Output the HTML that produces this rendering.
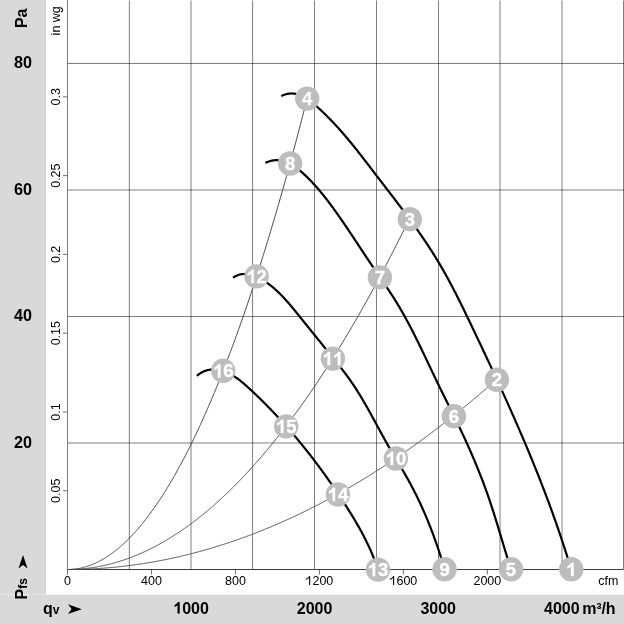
<!DOCTYPE html>
<html><head><meta charset="utf-8"><style>
html,body{margin:0;padding:0;background:#fff;}
body{width:624px;height:624px;overflow:hidden;position:relative;font-family:"Liberation Sans",sans-serif;}
svg{position:absolute;left:0;top:0;will-change:transform;font-family:"Liberation Sans",sans-serif;}
</style></head><body>
<svg width="624" height="624" viewBox="0 0 624 624">
<rect x="0" y="0" width="624" height="624" fill="#fff"/>
<rect x="0" y="0" width="46" height="624" fill="#d9d9d9"/>
<rect x="0" y="595" width="624" height="29" fill="#d9d9d9"/><rect x="0" y="594" width="46" height="1" fill="#e2e2e2"/><rect x="46" y="594" width="578" height="1" fill="#f4f4f4"/>
<g stroke="#000" stroke-opacity="0.5" stroke-width="1" fill="none"><line x1="129.35" y1="0.5" x2="129.35" y2="569.5" /><line x1="191.0" y1="0.5" x2="191.0" y2="569.5" /><line x1="252.6" y1="0.5" x2="252.6" y2="569.5" /><line x1="314.5" y1="0.5" x2="314.5" y2="569.5" /><line x1="376.5" y1="0.5" x2="376.5" y2="569.5" /><line x1="438.5" y1="0.5" x2="438.5" y2="569.5" /><line x1="500.0" y1="0.5" x2="500.0" y2="569.5" /><line x1="562.0" y1="0.5" x2="562.0" y2="569.5" /><line x1="623.5" y1="0.5" x2="623.5" y2="569.5" /><line x1="67.5" y1="63.5" x2="624" y2="63.5" /><line x1="67.5" y1="190" x2="624" y2="190" /><line x1="67.5" y1="316.5" x2="624" y2="316.5" /><line x1="67.5" y1="443" x2="624" y2="443" /><line x1="67.5" y1="0" x2="67.5" y2="574.5"/></g>
<g stroke="#6e6e6e" stroke-width="1"><line x1="63" y1="490.73" x2="67.5" y2="490.73" /><line x1="63" y1="411.95" x2="67.5" y2="411.95" /><line x1="63" y1="333.18" x2="67.5" y2="333.18" /><line x1="63" y1="254.40" x2="67.5" y2="254.40" /><line x1="63" y1="175.63" x2="67.5" y2="175.63" /><line x1="63" y1="96.85" x2="67.5" y2="96.85" /><line x1="67.50" y1="569.5" x2="67.50" y2="574.5" /><line x1="151.47" y1="569.5" x2="151.47" y2="574.5" /><line x1="235.44" y1="569.5" x2="235.44" y2="574.5" /><line x1="319.42" y1="569.5" x2="319.42" y2="574.5" /><line x1="403.39" y1="569.5" x2="403.39" y2="574.5" /><line x1="487.36" y1="569.5" x2="487.36" y2="574.5" /></g>
<line x1="67.5" y1="569.5" x2="623.5" y2="569.5" stroke="#3c3c3c" stroke-width="1"/>
<g stroke="#4a4a4a" stroke-width="1" fill="none">
<path d="M67.50,569.50 68.50,569.49 69.50,569.47 70.50,569.43 71.50,569.37 72.50,569.29 73.50,569.20 74.50,569.10 75.50,568.98 76.50,568.84 77.50,568.68 78.50,568.51 79.50,568.32 80.50,568.11 81.50,567.89 82.50,567.65 83.50,567.40 84.50,567.13 85.50,566.84 86.50,566.54 87.50,566.22 88.50,565.88 89.50,565.53 90.50,565.16 91.50,564.78 92.50,564.38 93.50,563.96 94.50,563.52 95.50,563.07 96.50,562.60 97.50,562.12 98.50,561.62 99.50,561.10 100.50,560.57 101.50,560.02 102.50,559.46 103.50,558.87 104.50,558.27 105.50,557.66 106.50,557.03 107.50,556.38 108.50,555.72 109.50,555.04 110.50,554.34 111.50,553.62 112.50,552.89 113.50,552.15 114.50,551.39 115.50,550.61 116.50,549.81 117.50,549.00 118.50,548.17 119.50,547.33 120.50,546.47 121.50,545.59 122.50,544.70 123.50,543.78 124.50,542.86 125.50,541.92 126.50,540.96 127.50,539.98 128.50,538.99 129.50,537.98 130.50,536.95 131.50,535.91 132.50,534.86 133.50,533.78 134.50,532.69 135.50,531.58 136.50,530.46 137.50,529.32 138.50,528.16 139.50,526.99 140.50,525.80 141.50,524.60 142.50,523.38 143.50,522.14 144.50,520.88 145.50,519.61 146.50,518.32 147.50,517.02 148.50,515.70 149.50,514.36 150.50,513.01 151.50,511.64 152.50,510.25 153.50,508.85 154.50,507.43 155.50,506.00 156.50,504.55 157.50,503.08 158.50,501.60 159.50,500.10 160.50,498.58 161.50,497.04 162.50,495.50 163.50,493.93 164.50,492.35 165.50,490.75 166.50,489.13 167.50,487.50 168.50,485.85 169.50,484.19 170.50,482.51 171.50,480.81 172.50,479.10 173.50,477.36 174.50,475.62 175.50,473.86 176.50,472.08 177.50,470.28 178.50,468.47 179.50,466.64 180.50,464.79 181.50,462.93 182.50,461.06 183.50,459.16 184.50,457.25 185.50,455.32 186.50,453.38 187.50,451.42 188.50,449.44 189.50,447.45 190.50,445.44 191.50,443.42 192.50,441.38 193.50,439.32 194.50,437.24 195.50,435.15 196.50,433.04 197.50,430.92 198.50,428.78 199.50,426.62 200.50,424.45 201.50,422.26 202.50,420.05 203.50,417.83 204.50,415.59 205.50,413.34 206.50,411.07 207.50,408.78 208.50,406.48 209.50,404.16 210.50,401.82 211.50,399.46 212.50,397.10 213.50,394.71 214.50,392.31 215.50,389.89 216.50,387.45 217.50,385.00 218.50,382.53 219.50,380.05 220.50,377.55 221.50,375.03 222.50,372.50 223.50,369.94 224.50,367.38 225.50,364.80 226.50,362.20 227.50,359.58 228.50,356.95 229.50,354.30 230.50,351.63 231.50,348.95 232.50,346.25 233.50,343.54 234.50,340.81 235.50,338.06 236.50,335.30 237.50,332.52 238.50,329.72 239.50,326.91 240.50,324.08 241.50,321.24 242.50,318.38 243.50,315.50 244.50,312.60 245.50,309.69 246.50,306.76 247.50,303.82 248.50,300.86 249.50,297.88 250.50,294.89 251.50,291.88 252.50,288.85 253.50,285.81 254.50,282.75 255.50,279.68 256.50,276.59 257.50,273.48 258.50,270.36 259.50,267.22 260.50,264.06 261.50,260.88 262.50,257.69 263.50,254.49 264.50,251.27 265.50,248.03 266.50,244.77 267.50,241.50 268.50,238.21 269.50,234.91 270.50,231.59 271.50,228.25 272.50,224.89 273.50,221.52 274.50,218.14 275.50,214.74 276.50,211.32 277.50,207.88 278.50,204.43 279.50,200.96 280.50,197.47 281.50,193.97 282.50,190.45 283.50,186.92 284.50,183.37 285.50,179.80 286.50,176.22 287.50,172.62 288.50,169.00 289.50,165.37 290.50,161.72 291.50,158.06 292.50,154.37 293.50,150.68 294.50,146.96 295.50,143.23 296.50,139.48 297.50,135.72 298.50,131.94 299.50,128.14 300.50,124.33 301.50,120.50 302.50,116.65 303.50,112.79 304.50,108.91 305.50,105.02 306.50,101.11 307.20,98.36"/><path d="M67.50,569.50 68.50,569.50 69.50,569.49 70.50,569.47 71.50,569.45 72.50,569.42 73.50,569.39 74.50,569.35 75.50,569.31 76.50,569.26 77.50,569.20 78.50,569.14 79.50,569.07 80.50,568.99 81.50,568.91 82.50,568.83 83.50,568.73 84.50,568.63 85.50,568.53 86.50,568.42 87.50,568.30 88.50,568.18 89.50,568.05 90.50,567.91 91.50,567.77 92.50,567.62 93.50,567.47 94.50,567.31 95.50,567.15 96.50,566.98 97.50,566.80 98.50,566.62 99.50,566.43 100.50,566.23 101.50,566.03 102.50,565.83 103.50,565.61 104.50,565.39 105.50,565.17 106.50,564.94 107.50,564.70 108.50,564.46 109.50,564.21 110.50,563.95 111.50,563.69 112.50,563.42 113.50,563.15 114.50,562.87 115.50,562.59 116.50,562.30 117.50,562.00 118.50,561.70 119.50,561.39 120.50,561.07 121.50,560.75 122.50,560.42 123.50,560.09 124.50,559.75 125.50,559.41 126.50,559.06 127.50,558.70 128.50,558.34 129.50,557.97 130.50,557.59 131.50,557.21 132.50,556.83 133.50,556.43 134.50,556.03 135.50,555.63 136.50,555.22 137.50,554.80 138.50,554.38 139.50,553.95 140.50,553.51 141.50,553.07 142.50,552.62 143.50,552.17 144.50,551.71 145.50,551.25 146.50,550.78 147.50,550.30 148.50,549.82 149.50,549.33 150.50,548.83 151.50,548.33 152.50,547.83 153.50,547.31 154.50,546.79 155.50,546.27 156.50,545.74 157.50,545.20 158.50,544.66 159.50,544.11 160.50,543.55 161.50,542.99 162.50,542.42 163.50,541.85 164.50,541.27 165.50,540.69 166.50,540.10 167.50,539.50 168.50,538.90 169.50,538.29 170.50,537.67 171.50,537.05 172.50,536.42 173.50,535.79 174.50,535.15 175.50,534.51 176.50,533.86 177.50,533.20 178.50,532.54 179.50,531.87 180.50,531.19 181.50,530.51 182.50,529.83 183.50,529.13 184.50,528.43 185.50,527.73 186.50,527.02 187.50,526.30 188.50,525.58 189.50,524.85 190.50,524.11 191.50,523.37 192.50,522.62 193.50,521.87 194.50,521.11 195.50,520.35 196.50,519.58 197.50,518.80 198.50,518.02 199.50,517.23 200.50,516.43 201.50,515.63 202.50,514.83 203.50,514.01 204.50,513.19 205.50,512.37 206.50,511.54 207.50,510.70 208.50,509.86 209.50,509.01 210.50,508.15 211.50,507.29 212.50,506.43 213.50,505.55 214.50,504.67 215.50,503.79 216.50,502.90 217.50,502.00 218.50,501.10 219.50,500.19 220.50,499.27 221.50,498.35 222.50,497.43 223.50,496.49 224.50,495.55 225.50,494.61 226.50,493.66 227.50,492.70 228.50,491.74 229.50,490.77 230.50,489.79 231.50,488.81 232.50,487.82 233.50,486.83 234.50,485.83 235.50,484.83 236.50,483.82 237.50,482.80 238.50,481.78 239.50,480.75 240.50,479.71 241.50,478.67 242.50,477.62 243.50,476.57 244.50,475.51 245.50,474.45 246.50,473.38 247.50,472.30 248.50,471.22 249.50,470.13 250.50,469.03 251.50,467.93 252.50,466.82 253.50,465.71 254.50,464.59 255.50,463.47 256.50,462.34 257.50,461.20 258.50,460.06 259.50,458.91 260.50,457.75 261.50,456.59 262.50,455.43 263.50,454.25 264.50,453.07 265.50,451.89 266.50,450.70 267.50,449.50 268.50,448.30 269.50,447.09 270.50,445.87 271.50,444.65 272.50,443.43 273.50,442.19 274.50,440.95 275.50,439.71 276.50,438.46 277.50,437.20 278.50,435.94 279.50,434.67 280.50,433.39 281.50,432.11 282.50,430.82 283.50,429.53 284.50,428.23 285.50,426.93 286.50,425.62 287.50,424.30 288.50,422.98 289.50,421.65 290.50,420.31 291.50,418.97 292.50,417.62 293.50,416.27 294.50,414.91 295.50,413.55 296.50,412.18 297.50,410.80 298.50,409.42 299.50,408.03 300.50,406.63 301.50,405.23 302.50,403.82 303.50,402.41 304.50,400.99 305.50,399.57 306.50,398.14 307.50,396.70 308.50,395.26 309.50,393.81 310.50,392.35 311.50,390.89 312.50,389.42 313.50,387.95 314.50,386.47 315.50,384.99 316.50,383.50 317.50,382.00 318.50,380.50 319.50,378.99 320.50,377.47 321.50,375.95 322.50,374.42 323.50,372.89 324.50,371.35 325.50,369.81 326.50,368.26 327.50,366.70 328.50,365.14 329.50,363.57 330.50,361.99 331.50,360.41 332.50,358.82 333.50,357.23 334.50,355.63 335.50,354.03 336.50,352.42 337.50,350.80 338.50,349.18 339.50,347.55 340.50,345.91 341.50,344.27 342.50,342.62 343.50,340.97 344.50,339.31 345.50,337.65 346.50,335.98 347.50,334.30 348.50,332.62 349.50,330.93 350.50,329.23 351.50,327.53 352.50,325.82 353.50,324.11 354.50,322.39 355.50,320.67 356.50,318.94 357.50,317.20 358.50,315.46 359.50,313.71 360.50,311.95 361.50,310.19 362.50,308.43 363.50,306.65 364.50,304.87 365.50,303.09 366.50,301.30 367.50,299.50 368.50,297.70 369.50,295.89 370.50,294.07 371.50,292.25 372.50,290.43 373.50,288.59 374.50,286.75 375.50,284.91 376.50,283.06 377.50,281.20 378.50,279.34 379.50,277.47 380.50,275.59 381.50,273.71 382.50,271.82 383.50,269.93 384.50,268.03 385.50,266.13 386.50,264.22 387.50,262.30 388.50,260.38 389.50,258.45 390.50,256.51 391.50,254.57 392.50,252.62 393.50,250.67 394.50,248.71 395.50,246.75 396.50,244.78 397.50,242.80 398.50,240.82 399.50,238.83 400.50,236.83 401.50,234.83 402.50,232.82 403.50,230.81 404.50,228.79 405.50,226.77 406.50,224.74 407.50,222.70 408.50,220.66 409.50,218.61 409.80,217.99"/><path d="M67.50,569.50 68.50,569.50 69.50,569.50 70.50,569.49 71.50,569.48 72.50,569.47 73.50,569.46 74.50,569.45 75.50,569.43 76.50,569.42 77.50,569.40 78.50,569.38 79.50,569.35 80.50,569.33 81.50,569.30 82.50,569.27 83.50,569.24 84.50,569.20 85.50,569.17 86.50,569.13 87.50,569.09 88.50,569.04 89.50,569.00 90.50,568.95 91.50,568.91 92.50,568.86 93.50,568.80 94.50,568.75 95.50,568.69 96.50,568.63 97.50,568.57 98.50,568.51 99.50,568.44 100.50,568.38 101.50,568.31 102.50,568.24 103.50,568.16 104.50,568.09 105.50,568.01 106.50,567.93 107.50,567.85 108.50,567.77 109.50,567.68 110.50,567.59 111.50,567.50 112.50,567.41 113.50,567.32 114.50,567.22 115.50,567.12 116.50,567.02 117.50,566.92 118.50,566.82 119.50,566.71 120.50,566.60 121.50,566.49 122.50,566.38 123.50,566.26 124.50,566.15 125.50,566.03 126.50,565.91 127.50,565.78 128.50,565.66 129.50,565.53 130.50,565.40 131.50,565.27 132.50,565.14 133.50,565.00 134.50,564.87 135.50,564.73 136.50,564.59 137.50,564.44 138.50,564.30 139.50,564.15 140.50,564.00 141.50,563.85 142.50,563.70 143.50,563.54 144.50,563.38 145.50,563.22 146.50,563.06 147.50,562.90 148.50,562.73 149.50,562.56 150.50,562.39 151.50,562.22 152.50,562.04 153.50,561.87 154.50,561.69 155.50,561.51 156.50,561.33 157.50,561.14 158.50,560.95 159.50,560.77 160.50,560.57 161.50,560.38 162.50,560.19 163.50,559.99 164.50,559.79 165.50,559.59 166.50,559.39 167.50,559.18 168.50,558.97 169.50,558.76 170.50,558.55 171.50,558.34 172.50,558.12 173.50,557.90 174.50,557.68 175.50,557.46 176.50,557.24 177.50,557.01 178.50,556.78 179.50,556.55 180.50,556.32 181.50,556.09 182.50,555.85 183.50,555.61 184.50,555.37 185.50,555.13 186.50,554.89 187.50,554.64 188.50,554.39 189.50,554.14 190.50,553.89 191.50,553.63 192.50,553.38 193.50,553.12 194.50,552.85 195.50,552.59 196.50,552.33 197.50,552.06 198.50,551.79 199.50,551.52 200.50,551.24 201.50,550.97 202.50,550.69 203.50,550.41 204.50,550.13 205.50,549.85 206.50,549.56 207.50,549.27 208.50,548.98 209.50,548.69 210.50,548.40 211.50,548.10 212.50,547.80 213.50,547.50 214.50,547.20 215.50,546.90 216.50,546.59 217.50,546.28 218.50,545.97 219.50,545.66 220.50,545.34 221.50,545.03 222.50,544.71 223.50,544.39 224.50,544.06 225.50,543.74 226.50,543.41 227.50,543.08 228.50,542.75 229.50,542.42 230.50,542.08 231.50,541.74 232.50,541.40 233.50,541.06 234.50,540.72 235.50,540.37 236.50,540.03 237.50,539.68 238.50,539.32 239.50,538.97 240.50,538.61 241.50,538.26 242.50,537.89 243.50,537.53 244.50,537.17 245.50,536.80 246.50,536.43 247.50,536.06 248.50,535.69 249.50,535.32 250.50,534.94 251.50,534.56 252.50,534.18 253.50,533.80 254.50,533.41 255.50,533.02 256.50,532.64 257.50,532.24 258.50,531.85 259.50,531.46 260.50,531.06 261.50,530.66 262.50,530.26 263.50,529.85 264.50,529.45 265.50,529.04 266.50,528.63 267.50,528.22 268.50,527.81 269.50,527.39 270.50,526.97 271.50,526.55 272.50,526.13 273.50,525.71 274.50,525.28 275.50,524.85 276.50,524.42 277.50,523.99 278.50,523.55 279.50,523.12 280.50,522.68 281.50,522.24 282.50,521.80 283.50,521.35 284.50,520.90 285.50,520.46 286.50,520.00 287.50,519.55 288.50,519.10 289.50,518.64 290.50,518.18 291.50,517.72 292.50,517.25 293.50,516.79 294.50,516.32 295.50,515.85 296.50,515.38 297.50,514.91 298.50,514.43 299.50,513.95 300.50,513.47 301.50,512.99 302.50,512.51 303.50,512.02 304.50,511.53 305.50,511.04 306.50,510.55 307.50,510.06 308.50,509.56 309.50,509.06 310.50,508.56 311.50,508.06 312.50,507.55 313.50,507.05 314.50,506.54 315.50,506.03 316.50,505.51 317.50,505.00 318.50,504.48 319.50,503.96 320.50,503.44 321.50,502.92 322.50,502.39 323.50,501.87 324.50,501.34 325.50,500.81 326.50,500.27 327.50,499.74 328.50,499.20 329.50,498.66 330.50,498.12 331.50,497.57 332.50,497.03 333.50,496.48 334.50,495.93 335.50,495.38 336.50,494.82 337.50,494.27 338.50,493.71 339.50,493.15 340.50,492.59 341.50,492.02 342.50,491.45 343.50,490.89 344.50,490.32 345.50,489.74 346.50,489.17 347.50,488.59 348.50,488.01 349.50,487.43 350.50,486.85 351.50,486.26 352.50,485.68 353.50,485.09 354.50,484.50 355.50,483.90 356.50,483.31 357.50,482.71 358.50,482.11 359.50,481.51 360.50,480.90 361.50,480.30 362.50,479.69 363.50,479.08 364.50,478.47 365.50,477.85 366.50,477.24 367.50,476.62 368.50,476.00 369.50,475.38 370.50,474.75 371.50,474.13 372.50,473.50 373.50,472.87 374.50,472.24 375.50,471.60 376.50,470.96 377.50,470.32 378.50,469.68 379.50,469.04 380.50,468.40 381.50,467.75 382.50,467.10 383.50,466.45 384.50,465.80 385.50,465.14 386.50,464.48 387.50,463.82 388.50,463.16 389.50,462.50 390.50,461.83 391.50,461.16 392.50,460.50 393.50,459.82 394.50,459.15 395.50,458.47 396.50,457.80 397.50,457.12 398.50,456.43 399.50,455.75 400.50,455.06 401.50,454.37 402.50,453.68 403.50,452.99 404.50,452.30 405.50,451.60 406.50,450.90 407.50,450.20 408.50,449.50 409.50,448.79 410.50,448.09 411.50,447.38 412.50,446.67 413.50,445.95 414.50,445.24 415.50,444.52 416.50,443.80 417.50,443.08 418.50,442.36 419.50,441.63 420.50,440.90 421.50,440.17 422.50,439.44 423.50,438.71 424.50,437.97 425.50,437.23 426.50,436.49 427.50,435.75 428.50,435.01 429.50,434.26 430.50,433.51 431.50,432.76 432.50,432.01 433.50,431.26 434.50,430.50 435.50,429.74 436.50,428.98 437.50,428.22 438.50,427.45 439.50,426.69 440.50,425.92 441.50,425.15 442.50,424.38 443.50,423.60 444.50,422.82 445.50,422.04 446.50,421.26 447.50,420.48 448.50,419.69 449.50,418.91 450.50,418.12 451.50,417.33 452.50,416.53 453.50,415.74 454.50,414.94 455.50,414.14 456.50,413.34 457.50,412.53 458.50,411.73 459.50,410.92 460.50,410.11 461.50,409.30 462.50,408.48 463.50,407.67 464.50,406.85 465.50,406.03 466.50,405.20 467.50,404.38 468.50,403.55 469.50,402.72 470.50,401.89 471.50,401.06 472.50,400.23 473.50,399.39 474.50,398.55 475.50,397.71 476.50,396.87 477.50,396.02 478.50,395.17 479.50,394.32 480.50,393.47 481.50,392.62 482.50,391.76 483.50,390.91 484.50,390.05 485.50,389.18 486.50,388.32 487.50,387.46 488.50,386.59 489.50,385.72 490.50,384.85 491.50,383.97 492.50,383.10 493.50,382.22 494.50,381.34 495.50,380.45 496.50,379.57 496.90,379.22"/>
</g>
<g stroke="#000" stroke-width="2.2" fill="none" stroke-linecap="butt" stroke-linejoin="round">
<path d="M281.25,96.09 282.06,95.69 282.87,95.32 283.68,94.99 284.48,94.69 285.28,94.43 286.08,94.20 286.86,94.00 287.65,93.84 288.43,93.70 289.21,93.60 289.98,93.53 290.75,93.49 291.51,93.47 292.27,93.49 293.03,93.53 293.78,93.60 294.53,93.69 295.27,93.81 296.01,93.96 296.75,94.12 297.48,94.32 298.21,94.53 298.93,94.77 299.65,95.02 300.37,95.30 301.08,95.60 301.79,95.92 302.50,96.25 303.20,96.60 303.90,96.97 304.60,97.36 305.29,97.76 305.98,98.18 306.66,98.61 307.34,99.05 308.02,99.51 308.70,99.98 309.37,100.46 310.04,100.95 310.71,101.46 311.37,101.97 312.03,102.49 312.69,103.02 313.34,103.55 313.99,104.10 314.64,104.64 315.28,105.20 315.92,105.76 316.56,106.32 317.20,106.89 317.83,107.45 318.46,108.02 319.09,108.60 319.72,109.17 320.34,109.74 320.96,110.32 321.58,110.90 322.19,111.48 322.81,112.06 323.42,112.64 324.02,113.22 324.63,113.81 325.23,114.40 325.83,114.98 326.43,115.57 327.02,116.16 327.62,116.76 328.21,117.35 328.80,117.94 329.38,118.54 329.97,119.14 330.55,119.73 331.13,120.33 331.71,120.93 332.28,121.54 332.86,122.14 333.43,122.74 334.00,123.35 334.57,123.96 335.13,124.56 335.70,125.17 336.26,125.78 336.82,126.39 337.38,127.01 337.93,127.62 338.49,128.23 339.04,128.85 339.59,129.47 340.14,130.08 340.69,130.70 341.24,131.32 341.78,131.94 342.32,132.56 342.86,133.18 343.40,133.81 343.94,134.43 344.48,135.06 345.01,135.68 345.55,136.31 346.08,136.94 346.61,137.56 347.14,138.19 347.67,138.82 348.20,139.45 348.72,140.08 349.25,140.72 349.77,141.35 350.29,141.98 350.81,142.62 351.33,143.25 351.85,143.89 352.37,144.52 352.88,145.16 353.40,145.80 353.91,146.44 354.43,147.07 354.94,147.71 355.45,148.35 355.96,148.99 356.47,149.63 356.98,150.28 357.49,150.92 358.00,151.56 358.50,152.20 359.01,152.85 359.51,153.49 360.02,154.13 360.52,154.78 361.03,155.42 361.53,156.07 362.03,156.71 362.53,157.36 363.03,158.01 363.53,158.65 364.03,159.30 364.53,159.95 365.03,160.59 365.53,161.24 366.03,161.89 366.53,162.54 367.03,163.19 367.53,163.83 368.02,164.48 368.52,165.13 369.02,165.78 369.51,166.43 370.01,167.08 370.51,167.73 371.00,168.38 371.50,169.03 372.00,169.68 372.49,170.33 372.99,170.98 373.49,171.63 373.98,172.28 374.48,172.93 374.98,173.58 375.48,174.23 375.97,174.88 376.47,175.53 376.97,176.17 377.47,176.82 377.96,177.47 378.46,178.12 378.96,178.77 379.46,179.42 379.96,180.07 380.46,180.72 380.96,181.37 381.46,182.02 381.96,182.67 382.46,183.32 382.95,183.96 383.45,184.61 383.95,185.26 384.45,185.91 384.95,186.56 385.45,187.21 385.95,187.86 386.45,188.51 386.95,189.16 387.45,189.81 387.95,190.46 388.45,191.11 388.95,191.76 389.45,192.41 389.95,193.06 390.45,193.71 390.95,194.36 391.45,195.01 391.94,195.66 392.44,196.31 392.94,196.96 393.44,197.61 393.94,198.26 394.43,198.91 394.93,199.57 395.43,200.22 395.93,200.87 396.42,201.52 396.92,202.17 397.42,202.83 397.91,203.48 398.41,204.13 398.90,204.79 399.40,205.44 399.89,206.09 400.39,206.75 400.88,207.40 401.37,208.06 401.87,208.71 402.36,209.37 402.85,210.02 403.34,210.68 403.83,211.34 404.32,211.99 404.81,212.65 405.30,213.31 405.79,213.96 406.28,214.62 406.77,215.28 407.26,215.94 407.74,216.60 408.23,217.26 408.72,217.92 409.20,218.58 409.69,219.24 410.17,219.90 410.65,220.56 411.14,221.22 411.62,221.89 412.10,222.55 412.58,223.21 413.06,223.88 413.54,224.54 414.02,225.21 414.49,225.87 414.97,226.54 415.45,227.20 415.92,227.87 416.40,228.54 416.87,229.20 417.34,229.87 417.82,230.54 418.29,231.21 418.76,231.88 419.23,232.55 419.70,233.22 420.17,233.89 420.63,234.57 421.10,235.24 421.56,235.91 422.03,236.59 422.49,237.26 422.95,237.94 423.41,238.61 423.88,239.29 424.33,239.97 424.79,240.64 425.25,241.32 425.71,242.00 426.16,242.68 426.62,243.36 427.07,244.04 427.52,244.72 427.97,245.41 428.42,246.09 428.87,246.77 429.32,247.46 429.76,248.14 430.21,248.83 430.65,249.52 431.09,250.20 431.54,250.89 431.98,251.58 432.42,252.27 432.85,252.96 433.29,253.65 433.72,254.35 434.16,255.04 434.59,255.73 435.02,256.43 435.45,257.12 435.88,257.82 436.31,258.52 436.73,259.21 437.16,259.91 437.58,260.61 438.00,261.31 438.42,262.02 438.84,262.72 439.26,263.42 439.68,264.12 440.09,264.83 440.51,265.54 440.92,266.24 441.33,266.95 441.74,267.66 442.15,268.37 442.56,269.07 442.96,269.78 443.37,270.50 443.77,271.21 444.17,271.92 444.58,272.63 444.98,273.35 445.38,274.06 445.77,274.78 446.17,275.49 446.57,276.21 446.96,276.93 447.36,277.64 447.75,278.36 448.14,279.08 448.53,279.80 448.92,280.52 449.31,281.24 449.70,281.97 450.08,282.69 450.47,283.41 450.85,284.13 451.24,284.86 451.62,285.58 452.00,286.31 452.38,287.03 452.76,287.76 453.14,288.49 453.52,289.21 453.90,289.94 454.28,290.67 454.65,291.40 455.03,292.13 455.40,292.86 455.77,293.59 456.15,294.32 456.52,295.05 456.89,295.78 457.26,296.51 457.63,297.24 458.00,297.98 458.37,298.71 458.74,299.44 459.11,300.18 459.47,300.91 459.84,301.64 460.20,302.38 460.57,303.11 460.93,303.85 461.30,304.59 461.66,305.32 462.02,306.06 462.39,306.80 462.75,307.53 463.11,308.27 463.47,309.01 463.83,309.75 464.19,310.48 464.55,311.22 464.91,311.96 465.27,312.70 465.63,313.44 465.98,314.18 466.34,314.92 466.70,315.66 467.06,316.40 467.41,317.14 467.77,317.88 468.13,318.62 468.48,319.36 468.84,320.10 469.19,320.84 469.55,321.58 469.90,322.32 470.26,323.06 470.61,323.80 470.96,324.54 471.32,325.28 471.67,326.02 472.03,326.77 472.38,327.51 472.73,328.25 473.09,328.99 473.44,329.73 473.79,330.47 474.15,331.21 474.50,331.95 474.85,332.70 475.21,333.44 475.56,334.18 475.91,334.92 476.26,335.66 476.62,336.40 476.97,337.15 477.32,337.89 477.67,338.63 478.02,339.37 478.38,340.11 478.73,340.85 479.08,341.60 479.43,342.34 479.78,343.08 480.13,343.82 480.49,344.56 480.84,345.31 481.19,346.05 481.54,346.79 481.89,347.53 482.24,348.27 482.59,349.02 482.94,349.76 483.29,350.50 483.64,351.24 483.99,351.98 484.34,352.73 484.69,353.47 485.04,354.21 485.39,354.95 485.74,355.70 486.09,356.44 486.44,357.18 486.78,357.92 487.13,358.67 487.48,359.41 487.83,360.15 488.18,360.90 488.53,361.64 488.87,362.38 489.22,363.12 489.57,363.87 489.92,364.61 490.26,365.35 490.61,366.10 490.96,366.84 491.30,367.58 491.65,368.33 491.99,369.07 492.34,369.81 492.69,370.56 493.03,371.30 493.38,372.05 493.72,372.79 494.07,373.53 494.41,374.28 494.76,375.02 495.10,375.77 495.45,376.51 495.79,377.25 496.13,378.00 496.48,378.74 496.82,379.49 497.16,380.23 497.51,380.98 497.85,381.72 498.19,382.47 498.53,383.21 498.88,383.96 499.22,384.70 499.56,385.45 499.90,386.19 500.24,386.94 500.58,387.68 500.92,388.43 501.26,389.17 501.60,389.92 501.94,390.66 502.28,391.41 502.62,392.16 502.96,392.90 503.30,393.65 503.64,394.39 503.98,395.14 504.32,395.89 504.66,396.63 504.99,397.38 505.33,398.13 505.67,398.87 506.01,399.62 506.34,400.37 506.68,401.11 507.02,401.86 507.35,402.61 507.69,403.35 508.02,404.10 508.36,404.85 508.69,405.60 509.03,406.34 509.36,407.09 509.70,407.84 510.03,408.59 510.36,409.34 510.70,410.08 511.03,410.83 511.36,411.58 511.69,412.33 512.03,413.08 512.36,413.83 512.69,414.58 513.02,415.33 513.35,416.07 513.68,416.82 514.01,417.57 514.34,418.32 514.67,419.07 515.00,419.82 515.33,420.57 515.66,421.32 515.99,422.07 516.32,422.82 516.65,423.57 516.97,424.32 517.30,425.07 517.63,425.82 517.95,426.58 518.28,427.33 518.61,428.08 518.93,428.83 519.26,429.58 519.58,430.33 519.91,431.08 520.23,431.83 520.55,432.59 520.88,433.34 521.20,434.09 521.52,434.84 521.85,435.60 522.17,436.35 522.49,437.10 522.81,437.85 523.13,438.61 523.46,439.36 523.78,440.11 524.10,440.87 524.42,441.62 524.73,442.37 525.05,443.13 525.37,443.88 525.69,444.64 526.01,445.39 526.33,446.14 526.64,446.90 526.96,447.65 527.28,448.41 527.59,449.16 527.91,449.92 528.22,450.67 528.54,451.43 528.85,452.19 529.17,452.94 529.48,453.70 529.80,454.45 530.11,455.21 530.42,455.97 530.73,456.72 531.05,457.48 531.36,458.24 531.67,458.99 531.98,459.75 532.29,460.51 532.60,461.27 532.91,462.02 533.22,462.78 533.53,463.54 533.83,464.30 534.14,465.06 534.45,465.81 534.76,466.57 535.06,467.33 535.37,468.09 535.67,468.85 535.98,469.61 536.28,470.37 536.59,471.13 536.89,471.89 537.20,472.65 537.50,473.41 537.80,474.17 538.10,474.93 538.41,475.69 538.71,476.45 539.01,477.21 539.31,477.98 539.61,478.74 539.91,479.50 540.21,480.26 540.51,481.02 540.80,481.79 541.10,482.55 541.40,483.31 541.70,484.07 541.99,484.84 542.29,485.60 542.58,486.36 542.88,487.13 543.17,487.89 543.47,488.66 543.76,489.42 544.05,490.19 544.35,490.95 544.64,491.71 544.93,492.48 545.22,493.25 545.51,494.01 545.80,494.78 546.09,495.54 546.38,496.31 546.67,497.07 546.96,497.84 547.25,498.61 547.53,499.38 547.82,500.14 548.11,500.91 548.39,501.68 548.68,502.44 548.96,503.21 549.25,503.98 549.53,504.75 549.81,505.52 550.10,506.29 550.38,507.06 550.66,507.83 550.94,508.59 551.22,509.36 551.50,510.13 551.78,510.90 552.06,511.68 552.34,512.45 552.62,513.22 552.89,513.99 553.17,514.76 553.45,515.53 553.72,516.30 554.00,517.07 554.27,517.85 554.55,518.62 554.82,519.39 555.10,520.16 555.37,520.94 555.64,521.71 555.91,522.48 556.18,523.26 556.45,524.03 556.72,524.81 556.99,525.58 557.26,526.36 557.53,527.13 557.80,527.91 558.06,528.68 558.33,529.46 558.60,530.23 558.86,531.01 559.13,531.79 559.39,532.56 559.65,533.34 559.92,534.12 560.18,534.89 560.44,535.67 560.70,536.45 560.96,537.23 561.22,538.01 561.48,538.78 561.74,539.56 562.00,540.34 562.26,541.12 562.52,541.90 562.77,542.68 563.03,543.46 563.28,544.24 563.54,545.02 563.79,545.80 564.05,546.59 564.30,547.37 564.55,548.15 564.80,548.93 565.05,549.71 565.31,550.50 565.56,551.28 565.80,552.06 566.05,552.84 566.30,553.63 566.55,554.41 566.80,555.20 567.04,555.98 567.29,556.77 567.53,557.55 567.78,558.34 568.02,559.12 568.26,559.91 568.51,560.69 568.75,561.48 568.99,562.27 569.23,563.05 569.47,563.84 569.71,564.63 569.95,565.41 570.18,566.20 570.42,566.99 570.66,567.78 570.89,568.57 571.13,569.36"/><path d="M265.43,162.92 266.13,162.59 266.83,162.27 267.53,161.98 268.23,161.71 268.92,161.46 269.61,161.24 270.30,161.04 270.98,160.86 271.66,160.70 272.34,160.56 273.02,160.44 273.69,160.35 274.36,160.27 275.03,160.21 275.70,160.17 276.36,160.16 277.02,160.16 277.68,160.17 278.33,160.21 278.98,160.26 279.63,160.34 280.28,160.43 280.92,160.53 281.56,160.65 282.20,160.79 282.84,160.94 283.47,161.11 284.10,161.30 284.73,161.49 285.35,161.71 285.97,161.93 286.59,162.17 287.21,162.43 287.82,162.70 288.44,162.98 289.04,163.27 289.65,163.57 290.25,163.89 290.85,164.21 291.45,164.55 292.05,164.90 292.64,165.26 293.23,165.63 293.82,166.01 294.40,166.40 294.98,166.79 295.56,167.20 296.14,167.61 296.71,168.04 297.28,168.47 297.85,168.90 298.42,169.35 298.98,169.80 299.54,170.26 300.10,170.72 300.65,171.19 301.21,171.66 301.76,172.14 302.30,172.62 302.85,173.11 303.39,173.61 303.93,174.10 304.47,174.60 305.00,175.10 305.53,175.61 306.06,176.12 306.59,176.62 307.11,177.14 307.63,177.65 308.15,178.16 308.67,178.68 309.18,179.20 309.69,179.72 310.20,180.24 310.71,180.77 311.21,181.29 311.71,181.82 312.21,182.35 312.71,182.88 313.20,183.41 313.69,183.94 314.18,184.48 314.67,185.02 315.16,185.55 315.64,186.09 316.12,186.63 316.60,187.18 317.08,187.72 317.55,188.27 318.03,188.81 318.50,189.36 318.97,189.91 319.43,190.46 319.90,191.01 320.36,191.56 320.82,192.12 321.28,192.67 321.74,193.23 322.19,193.79 322.65,194.34 323.10,194.90 323.55,195.46 324.00,196.02 324.45,196.58 324.89,197.15 325.34,197.71 325.78,198.28 326.22,198.84 326.66,199.41 327.09,199.97 327.53,200.54 327.97,201.11 328.40,201.68 328.83,202.25 329.26,202.82 329.69,203.39 330.12,203.96 330.54,204.53 330.97,205.11 331.39,205.68 331.81,206.25 332.24,206.83 332.66,207.40 333.07,207.97 333.49,208.55 333.91,209.13 334.32,209.70 334.74,210.28 335.15,210.85 335.57,211.43 335.98,212.01 336.39,212.58 336.80,213.16 337.21,213.74 337.61,214.31 338.02,214.89 338.43,215.47 338.83,216.04 339.24,216.62 339.64,217.20 340.04,217.78 340.44,218.36 340.85,218.93 341.25,219.51 341.65,220.09 342.05,220.67 342.44,221.24 342.84,221.82 343.24,222.40 343.63,222.98 344.03,223.56 344.43,224.14 344.82,224.72 345.21,225.29 345.61,225.87 346.00,226.45 346.39,227.03 346.78,227.61 347.18,228.19 347.57,228.77 347.96,229.35 348.35,229.93 348.74,230.51 349.13,231.09 349.51,231.67 349.90,232.25 350.29,232.82 350.68,233.40 351.06,233.98 351.45,234.56 351.84,235.14 352.22,235.72 352.61,236.30 352.99,236.88 353.38,237.46 353.77,238.04 354.15,238.63 354.53,239.21 354.92,239.79 355.30,240.37 355.69,240.95 356.07,241.53 356.46,242.11 356.84,242.69 357.22,243.27 357.61,243.85 357.99,244.43 358.37,245.01 358.76,245.59 359.14,246.17 359.52,246.76 359.91,247.34 360.29,247.92 360.68,248.50 361.06,249.08 361.44,249.66 361.83,250.24 362.21,250.82 362.59,251.41 362.98,251.99 363.36,252.57 363.75,253.15 364.13,253.73 364.52,254.31 364.90,254.89 365.29,255.48 365.67,256.06 366.06,256.64 366.45,257.22 366.83,257.80 367.22,258.38 367.61,258.97 367.99,259.55 368.38,260.13 368.77,260.71 369.16,261.29 369.55,261.87 369.94,262.46 370.33,263.04 370.72,263.62 371.11,264.20 371.50,264.78 371.89,265.37 372.28,265.95 372.68,266.53 373.07,267.11 373.46,267.69 373.86,268.28 374.25,268.86 374.65,269.44 375.05,270.02 375.44,270.60 375.84,271.19 376.24,271.77 376.63,272.35 377.03,272.93 377.43,273.52 377.83,274.10 378.23,274.68 378.63,275.27 379.02,275.85 379.42,276.43 379.82,277.02 380.22,277.60 380.62,278.18 381.02,278.77 381.42,279.35 381.82,279.94 382.21,280.52 382.61,281.11 383.01,281.69 383.41,282.28 383.81,282.87 384.20,283.45 384.60,284.04 385.00,284.63 385.39,285.21 385.79,285.80 386.18,286.39 386.58,286.98 386.97,287.57 387.37,288.16 387.76,288.74 388.15,289.33 388.54,289.93 388.93,290.52 389.32,291.11 389.71,291.70 390.10,292.29 390.49,292.88 390.88,293.48 391.26,294.07 391.65,294.67 392.03,295.26 392.42,295.86 392.80,296.45 393.18,297.05 393.56,297.65 393.94,298.24 394.32,298.84 394.69,299.44 395.07,300.04 395.44,300.64 395.81,301.24 396.19,301.84 396.56,302.44 396.92,303.05 397.29,303.65 397.66,304.25 398.02,304.86 398.39,305.46 398.75,306.07 399.11,306.67 399.47,307.28 399.83,307.89 400.18,308.50 400.54,309.11 400.89,309.72 401.25,310.33 401.60,310.94 401.95,311.55 402.30,312.16 402.65,312.77 403.00,313.38 403.34,314.00 403.69,314.61 404.03,315.23 404.38,315.84 404.72,316.46 405.06,317.07 405.40,317.69 405.74,318.31 406.08,318.92 406.42,319.54 406.75,320.16 407.09,320.78 407.42,321.40 407.75,322.02 408.09,322.64 408.42,323.26 408.75,323.88 409.08,324.50 409.41,325.12 409.74,325.75 410.06,326.37 410.39,326.99 410.71,327.62 411.04,328.24 411.36,328.86 411.69,329.49 412.01,330.11 412.33,330.74 412.65,331.37 412.97,331.99 413.29,332.62 413.61,333.25 413.93,333.87 414.25,334.50 414.56,335.13 414.88,335.76 415.19,336.39 415.51,337.02 415.82,337.65 416.14,338.27 416.45,338.90 416.76,339.53 417.08,340.17 417.39,340.80 417.70,341.43 418.01,342.06 418.32,342.69 418.63,343.32 418.94,343.95 419.25,344.59 419.55,345.22 419.86,345.85 420.17,346.48 420.48,347.12 420.78,347.75 421.09,348.38 421.40,349.02 421.70,349.65 422.01,350.29 422.31,350.92 422.62,351.55 422.92,352.19 423.23,352.82 423.53,353.46 423.83,354.09 424.14,354.73 424.44,355.36 424.74,356.00 425.05,356.63 425.35,357.27 425.65,357.91 425.95,358.54 426.26,359.18 426.56,359.81 426.86,360.45 427.16,361.09 427.46,361.72 427.76,362.36 428.07,362.99 428.37,363.63 428.67,364.27 428.97,364.90 429.27,365.54 429.57,366.18 429.88,366.81 430.18,367.45 430.48,368.09 430.78,368.72 431.08,369.36 431.39,370.00 431.69,370.63 431.99,371.27 432.29,371.90 432.60,372.54 432.90,373.18 433.20,373.81 433.50,374.45 433.81,375.09 434.11,375.72 434.42,376.36 434.72,376.99 435.02,377.63 435.33,378.26 435.63,378.90 435.94,379.54 436.24,380.17 436.55,380.81 436.86,381.44 437.16,382.08 437.47,382.71 437.78,383.35 438.08,383.98 438.39,384.61 438.70,385.25 439.01,385.88 439.32,386.52 439.63,387.15 439.94,387.78 440.25,388.42 440.56,389.05 440.87,389.68 441.18,390.32 441.49,390.95 441.81,391.58 442.12,392.21 442.43,392.85 442.74,393.48 443.06,394.11 443.37,394.74 443.68,395.38 444.00,396.01 444.31,396.64 444.63,397.27 444.94,397.91 445.25,398.54 445.57,399.17 445.88,399.80 446.20,400.43 446.51,401.06 446.83,401.70 447.14,402.33 447.46,402.96 447.77,403.59 448.09,404.22 448.40,404.86 448.72,405.49 449.03,406.12 449.35,406.75 449.66,407.38 449.97,408.01 450.29,408.65 450.60,409.28 450.92,409.91 451.23,410.54 451.55,411.18 451.86,411.81 452.17,412.44 452.49,413.07 452.80,413.70 453.11,414.34 453.43,414.97 453.74,415.60 454.05,416.24 454.36,416.87 454.67,417.50 454.99,418.14 455.30,418.77 455.61,419.40 455.92,420.04 456.23,420.67 456.54,421.31 456.85,421.94 457.15,422.57 457.46,423.21 457.77,423.84 458.08,424.48 458.39,425.11 458.69,425.75 459.00,426.39 459.30,427.02 459.61,427.66 459.91,428.29 460.22,428.93 460.52,429.57 460.82,430.21 461.13,430.84 461.43,431.48 461.73,432.12 462.03,432.76 462.33,433.39 462.63,434.03 462.93,434.67 463.23,435.31 463.52,435.95 463.82,436.59 464.12,437.23 464.41,437.87 464.71,438.51 465.00,439.15 465.30,439.79 465.59,440.43 465.89,441.07 466.18,441.71 466.47,442.36 466.76,443.00 467.05,443.64 467.34,444.28 467.63,444.92 467.92,445.57 468.21,446.21 468.50,446.85 468.78,447.50 469.07,448.14 469.36,448.79 469.64,449.43 469.93,450.08 470.21,450.72 470.49,451.37 470.78,452.01 471.06,452.66 471.34,453.30 471.62,453.95 471.90,454.60 472.18,455.24 472.46,455.89 472.74,456.54 473.01,457.18 473.29,457.83 473.57,458.48 473.84,459.13 474.12,459.78 474.39,460.43 474.66,461.08 474.94,461.73 475.21,462.38 475.48,463.03 475.75,463.68 476.02,464.33 476.29,464.98 476.56,465.63 476.83,466.28 477.09,466.93 477.36,467.59 477.62,468.24 477.89,468.89 478.15,469.54 478.42,470.20 478.68,470.85 478.94,471.50 479.20,472.16 479.46,472.81 479.72,473.47 479.98,474.12 480.24,474.78 480.50,475.43 480.75,476.09 481.01,476.75 481.26,477.40 481.52,478.06 481.77,478.72 482.02,479.37 482.28,480.03 482.53,480.69 482.78,481.35 483.03,482.01 483.28,482.67 483.52,483.33 483.77,483.99 484.02,484.65 484.26,485.31 484.51,485.97 484.75,486.63 485.00,487.29 485.24,487.95 485.48,488.61 485.72,489.27 485.96,489.94 486.20,490.60 486.44,491.26 486.67,491.93 486.91,492.59 487.15,493.25 487.38,493.92 487.62,494.58 487.85,495.25 488.08,495.91 488.31,496.58 488.54,497.25 488.77,497.91 489.00,498.58 489.23,499.25 489.46,499.91 489.68,500.58 489.91,501.25 490.13,501.92 490.36,502.59 490.58,503.26 490.80,503.92 491.02,504.59 491.25,505.26 491.47,505.93 491.69,506.60 491.90,507.27 492.12,507.95 492.34,508.62 492.56,509.29 492.77,509.96 492.99,510.63 493.20,511.30 493.42,511.98 493.63,512.65 493.85,513.32 494.06,513.99 494.27,514.67 494.48,515.34 494.69,516.01 494.90,516.69 495.11,517.36 495.32,518.03 495.53,518.71 495.74,519.38 495.95,520.06 496.16,520.73 496.37,521.41 496.57,522.08 496.78,522.76 496.99,523.43 497.19,524.11 497.40,524.78 497.61,525.46 497.81,526.13 498.02,526.81 498.22,527.48 498.43,528.16 498.63,528.84 498.83,529.51 499.04,530.19 499.24,530.86 499.45,531.54 499.65,532.21 499.85,532.89 500.06,533.57 500.26,534.24 500.46,534.92 500.66,535.60 500.87,536.27 501.07,536.95 501.27,537.62 501.48,538.30 501.68,538.98 501.88,539.65 502.08,540.33 502.29,541.01 502.49,541.68 502.69,542.36 502.89,543.03 503.10,543.71 503.30,544.39 503.50,545.06 503.71,545.74 503.91,546.41 504.11,547.09 504.32,547.76 504.52,548.44 504.72,549.11 504.93,549.79 505.13,550.46 505.34,551.14 505.54,551.81 505.75,552.49 505.95,553.16 506.16,553.84 506.37,554.51 506.57,555.19 506.78,555.86 506.99,556.53 507.19,557.21 507.40,557.88 507.61,558.55 507.82,559.23 508.03,559.90 508.24,560.57 508.45,561.25 508.66,561.92 508.87,562.59 509.08,563.26 509.29,563.93 509.50,564.60 509.72,565.28 509.93,565.95 510.14,566.62 510.36,567.29 510.57,567.96 510.79,568.63 511.01,569.30"/><path d="M233.08,277.75 233.58,277.39 234.08,277.05 234.57,276.73 235.07,276.43 235.58,276.15 236.08,275.89 236.58,275.65 237.09,275.42 237.59,275.21 238.10,275.02 238.61,274.85 239.12,274.70 239.63,274.56 240.14,274.43 240.65,274.32 241.16,274.23 241.67,274.15 242.18,274.09 242.69,274.04 243.20,274.01 243.72,273.98 244.23,273.98 244.74,273.98 245.25,274.00 245.76,274.03 246.27,274.07 246.78,274.12 247.29,274.19 247.80,274.26 248.31,274.35 248.82,274.44 249.33,274.55 249.83,274.66 250.34,274.78 250.84,274.92 251.34,275.06 251.85,275.21 252.35,275.36 252.84,275.53 253.34,275.70 253.84,275.87 254.33,276.06 254.82,276.25 255.31,276.44 255.80,276.64 256.29,276.85 256.77,277.06 257.25,277.27 257.73,277.49 258.21,277.72 258.68,277.95 259.16,278.18 259.63,278.42 260.10,278.66 260.57,278.91 261.03,279.16 261.50,279.41 261.96,279.67 262.42,279.93 262.88,280.20 263.33,280.47 263.79,280.75 264.24,281.03 264.69,281.31 265.14,281.60 265.59,281.89 266.03,282.18 266.48,282.48 266.92,282.78 267.36,283.09 267.80,283.40 268.23,283.71 268.67,284.02 269.10,284.34 269.53,284.67 269.96,284.99 270.39,285.32 270.82,285.65 271.24,285.99 271.67,286.33 272.09,286.67 272.51,287.01 272.93,287.36 273.35,287.71 273.76,288.06 274.18,288.42 274.59,288.78 275.00,289.14 275.41,289.50 275.82,289.87 276.23,290.24 276.63,290.61 277.03,290.98 277.44,291.36 277.84,291.74 278.24,292.12 278.64,292.50 279.03,292.89 279.43,293.28 279.82,293.67 280.22,294.06 280.61,294.45 281.00,294.85 281.39,295.25 281.78,295.65 282.17,296.05 282.55,296.45 282.94,296.85 283.32,297.26 283.70,297.67 284.08,298.08 284.46,298.49 284.84,298.90 285.22,299.32 285.60,299.73 285.97,300.15 286.35,300.57 286.72,300.98 287.09,301.40 287.46,301.83 287.83,302.25 288.20,302.67 288.57,303.09 288.94,303.52 289.30,303.95 289.67,304.37 290.03,304.80 290.40,305.23 290.76,305.66 291.12,306.09 291.48,306.52 291.84,306.95 292.20,307.38 292.56,307.81 292.92,308.24 293.28,308.67 293.63,309.11 293.99,309.54 294.34,309.97 294.70,310.40 295.05,310.84 295.40,311.27 295.75,311.70 296.11,312.13 296.46,312.57 296.81,313.00 297.16,313.43 297.50,313.86 297.85,314.29 298.20,314.73 298.55,315.16 298.89,315.59 299.24,316.02 299.58,316.44 299.93,316.87 300.27,317.30 300.62,317.73 300.96,318.15 301.30,318.58 301.64,319.00 301.99,319.43 302.33,319.85 302.67,320.28 303.01,320.70 303.35,321.12 303.69,321.54 304.03,321.96 304.37,322.38 304.70,322.80 305.04,323.22 305.38,323.64 305.72,324.06 306.05,324.48 306.39,324.90 306.73,325.31 307.06,325.73 307.40,326.15 307.73,326.56 308.07,326.98 308.40,327.39 308.74,327.81 309.07,328.22 309.41,328.64 309.74,329.05 310.07,329.46 310.41,329.88 310.74,330.29 311.07,330.70 311.40,331.11 311.74,331.53 312.07,331.94 312.40,332.35 312.73,332.76 313.06,333.17 313.40,333.58 313.73,333.99 314.06,334.40 314.39,334.81 314.72,335.22 315.05,335.63 315.38,336.04 315.71,336.45 316.04,336.86 316.37,337.27 316.70,337.68 317.03,338.09 317.36,338.50 317.69,338.91 318.02,339.32 318.35,339.73 318.68,340.14 319.01,340.54 319.35,340.95 319.68,341.36 320.01,341.77 320.34,342.18 320.67,342.59 321.00,343.00 321.33,343.41 321.66,343.82 321.99,344.23 322.32,344.64 322.65,345.05 322.98,345.46 323.31,345.87 323.64,346.28 323.97,346.69 324.31,347.10 324.64,347.51 324.97,347.92 325.30,348.33 325.63,348.74 325.96,349.16 326.30,349.57 326.63,349.98 326.96,350.39 327.30,350.81 327.63,351.22 327.96,351.63 328.30,352.05 328.63,352.46 328.96,352.88 329.30,353.29 329.63,353.71 329.97,354.12 330.30,354.54 330.64,354.96 330.98,355.37 331.31,355.79 331.65,356.21 331.99,356.63 332.32,357.05 332.66,357.46 333.00,357.88 333.34,358.31 333.68,358.73 334.02,359.15 334.36,359.57 334.70,359.99 335.04,360.42 335.38,360.84 335.72,361.26 336.06,361.69 336.40,362.11 336.74,362.54 337.08,362.96 337.42,363.39 337.76,363.82 338.10,364.24 338.44,364.67 338.78,365.10 339.12,365.53 339.46,365.96 339.80,366.39 340.14,366.82 340.48,367.25 340.82,367.68 341.16,368.11 341.49,368.55 341.83,368.98 342.17,369.41 342.50,369.84 342.84,370.28 343.17,370.71 343.51,371.15 343.84,371.58 344.17,372.02 344.50,372.45 344.83,372.89 345.16,373.33 345.49,373.77 345.82,374.20 346.15,374.64 346.47,375.08 346.80,375.52 347.12,375.96 347.45,376.40 347.77,376.84 348.09,377.28 348.41,377.72 348.73,378.16 349.04,378.60 349.36,379.05 349.67,379.49 349.99,379.93 350.30,380.38 350.61,380.82 350.92,381.26 351.23,381.71 351.53,382.15 351.84,382.60 352.14,383.05 352.45,383.49 352.75,383.94 353.05,384.39 353.35,384.83 353.65,385.28 353.95,385.73 354.25,386.18 354.54,386.63 354.84,387.08 355.13,387.53 355.43,387.98 355.72,388.43 356.01,388.88 356.30,389.33 356.59,389.79 356.88,390.24 357.16,390.69 357.45,391.15 357.74,391.60 358.02,392.06 358.31,392.51 358.59,392.97 358.87,393.42 359.16,393.88 359.44,394.34 359.72,394.79 360.00,395.25 360.28,395.71 360.55,396.17 360.83,396.63 361.11,397.09 361.39,397.55 361.66,398.01 361.94,398.47 362.21,398.93 362.49,399.40 362.76,399.86 363.03,400.32 363.30,400.78 363.58,401.25 363.85,401.71 364.12,402.18 364.39,402.64 364.66,403.11 364.93,403.57 365.19,404.04 365.46,404.50 365.73,404.97 366.00,405.44 366.26,405.90 366.53,406.37 366.79,406.84 367.06,407.31 367.32,407.78 367.59,408.25 367.85,408.71 368.12,409.18 368.38,409.65 368.64,410.12 368.90,410.59 369.17,411.06 369.43,411.53 369.69,412.00 369.95,412.48 370.21,412.95 370.47,413.42 370.73,413.89 370.99,414.36 371.25,414.83 371.51,415.31 371.77,415.78 372.03,416.25 372.29,416.72 372.55,417.20 372.81,417.67 373.07,418.14 373.32,418.62 373.58,419.09 373.84,419.56 374.10,420.04 374.36,420.51 374.61,420.98 374.87,421.46 375.13,421.93 375.39,422.40 375.64,422.88 375.90,423.35 376.16,423.83 376.42,424.30 376.67,424.78 376.93,425.25 377.19,425.72 377.44,426.20 377.70,426.67 377.96,427.15 378.21,427.62 378.47,428.10 378.73,428.57 378.99,429.05 379.24,429.52 379.50,429.99 379.76,430.47 380.02,430.94 380.28,431.42 380.53,431.89 380.79,432.36 381.05,432.84 381.31,433.31 381.57,433.79 381.83,434.26 382.09,434.73 382.35,435.21 382.61,435.68 382.86,436.15 383.13,436.63 383.39,437.10 383.65,437.57 383.91,438.04 384.17,438.52 384.43,438.99 384.69,439.46 384.95,439.93 385.22,440.40 385.48,440.88 385.74,441.35 386.01,441.82 386.27,442.29 386.53,442.76 386.80,443.23 387.06,443.70 387.33,444.17 387.60,444.64 387.86,445.11 388.13,445.58 388.40,446.05 388.67,446.52 388.93,446.98 389.20,447.45 389.47,447.92 389.74,448.39 390.01,448.85 390.28,449.32 390.56,449.79 390.83,450.25 391.10,450.72 391.37,451.19 391.65,451.65 391.92,452.12 392.19,452.58 392.47,453.05 392.74,453.51 393.02,453.98 393.29,454.44 393.57,454.90 393.84,455.37 394.12,455.83 394.40,456.30 394.67,456.76 394.95,457.22 395.23,457.69 395.50,458.15 395.78,458.61 396.06,459.08 396.33,459.54 396.61,460.00 396.89,460.46 397.17,460.93 397.44,461.39 397.72,461.85 398.00,462.32 398.27,462.78 398.55,463.24 398.83,463.70 399.11,464.17 399.38,464.63 399.66,465.09 399.94,465.56 400.21,466.02 400.49,466.48 400.76,466.95 401.04,467.41 401.31,467.88 401.59,468.34 401.86,468.80 402.14,469.27 402.41,469.73 402.69,470.20 402.96,470.66 403.23,471.13 403.51,471.59 403.78,472.06 404.05,472.52 404.32,472.99 404.59,473.46 404.86,473.92 405.13,474.39 405.40,474.86 405.67,475.32 405.94,475.79 406.20,476.26 406.47,476.73 406.74,477.20 407.00,477.67 407.27,478.14 407.53,478.61 407.79,479.08 408.06,479.55 408.32,480.02 408.58,480.49 408.84,480.96 409.10,481.44 409.36,481.91 409.62,482.38 409.87,482.86 410.13,483.33 410.39,483.80 410.64,484.28 410.90,484.75 411.15,485.23 411.40,485.71 411.66,486.18 411.91,486.66 412.16,487.14 412.41,487.61 412.66,488.09 412.91,488.57 413.16,489.05 413.40,489.53 413.65,490.01 413.90,490.49 414.14,490.97 414.39,491.45 414.63,491.93 414.87,492.41 415.12,492.89 415.36,493.37 415.60,493.85 415.84,494.34 416.08,494.82 416.32,495.30 416.56,495.79 416.79,496.27 417.03,496.75 417.27,497.24 417.50,497.72 417.74,498.21 417.97,498.70 418.21,499.18 418.44,499.67 418.67,500.15 418.90,500.64 419.13,501.13 419.36,501.62 419.59,502.11 419.82,502.59 420.05,503.08 420.28,503.57 420.50,504.06 420.73,504.55 420.96,505.04 421.18,505.53 421.40,506.02 421.63,506.51 421.85,507.00 422.07,507.50 422.29,507.99 422.51,508.48 422.73,508.97 422.95,509.46 423.17,509.96 423.39,510.45 423.61,510.94 423.83,511.44 424.04,511.93 424.26,512.43 424.47,512.92 424.69,513.42 424.90,513.91 425.11,514.41 425.33,514.91 425.54,515.40 425.75,515.90 425.96,516.40 426.17,516.89 426.38,517.39 426.59,517.89 426.79,518.39 427.00,518.88 427.21,519.38 427.41,519.88 427.62,520.38 427.82,520.88 428.03,521.38 428.23,521.88 428.43,522.38 428.64,522.88 428.84,523.38 429.04,523.88 429.24,524.38 429.44,524.88 429.64,525.39 429.84,525.89 430.03,526.39 430.23,526.89 430.43,527.40 430.62,527.90 430.82,528.40 431.01,528.91 431.21,529.41 431.40,529.91 431.60,530.42 431.79,530.92 431.98,531.43 432.17,531.93 432.36,532.44 432.55,532.94 432.74,533.45 432.93,533.95 433.12,534.46 433.30,534.96 433.49,535.47 433.68,535.98 433.86,536.48 434.05,536.99 434.23,537.50 434.42,538.01 434.60,538.51 434.78,539.02 434.97,539.53 435.15,540.04 435.33,540.55 435.51,541.06 435.69,541.57 435.87,542.07 436.05,542.58 436.23,543.09 436.40,543.60 436.58,544.11 436.76,544.62 436.93,545.13 437.11,545.64 437.28,546.15 437.46,546.67 437.63,547.18 437.81,547.69 437.98,548.20 438.15,548.71 438.32,549.22 438.49,549.73 438.66,550.25 438.83,550.76 439.00,551.27 439.17,551.78 439.34,552.30 439.51,552.81 439.67,553.32 439.84,553.84 440.01,554.35 440.17,554.86 440.34,555.38 440.50,555.89 440.66,556.41 440.83,556.92 440.99,557.43 441.15,557.95 441.31,558.46 441.48,558.98 441.64,559.49 441.80,560.01 441.96,560.52 442.11,561.04 442.27,561.55 442.43,562.07 442.59,562.59 442.75,563.10 442.90,563.62 443.06,564.13 443.21,564.65 443.37,565.17 443.52,565.68 443.68,566.20 443.83,566.72 443.98,567.23 444.13,567.75 444.29,568.27 444.44,568.79 444.59,569.30"/><path d="M196.94,375.84 197.28,375.53 197.62,375.24 197.96,374.95 198.31,374.67 198.66,374.40 199.00,374.14 199.36,373.88 199.71,373.64 200.06,373.40 200.42,373.16 200.78,372.94 201.14,372.72 201.50,372.52 201.86,372.31 202.22,372.12 202.59,371.93 202.96,371.76 203.32,371.58 203.69,371.42 204.06,371.26 204.44,371.11 204.81,370.97 205.18,370.83 205.56,370.70 205.93,370.58 206.31,370.47 206.69,370.36 207.07,370.25 207.45,370.16 207.83,370.07 208.21,369.99 208.59,369.91 208.97,369.84 209.36,369.77 209.74,369.72 210.13,369.66 210.51,369.62 210.89,369.58 211.28,369.55 211.67,369.52 212.05,369.50 212.44,369.48 212.82,369.47 213.21,369.46 213.60,369.46 213.98,369.47 214.37,369.48 214.76,369.50 215.14,369.52 215.53,369.55 215.92,369.58 216.30,369.62 216.69,369.66 217.07,369.70 217.46,369.76 217.84,369.81 218.22,369.88 218.61,369.94 218.99,370.01 219.37,370.09 219.75,370.17 220.13,370.25 220.51,370.34 220.89,370.44 221.27,370.53 221.65,370.63 222.03,370.74 222.40,370.85 222.78,370.96 223.15,371.08 223.52,371.20 223.89,371.33 224.26,371.46 224.63,371.59 225.00,371.73 225.37,371.87 225.73,372.01 226.10,372.16 226.46,372.31 226.82,372.46 227.19,372.62 227.55,372.78 227.91,372.95 228.27,373.12 228.62,373.29 228.98,373.46 229.34,373.64 229.69,373.82 230.05,374.00 230.40,374.19 230.75,374.38 231.10,374.57 231.46,374.77 231.80,374.97 232.15,375.17 232.50,375.37 232.85,375.58 233.19,375.79 233.54,376.00 233.88,376.22 234.23,376.44 234.57,376.66 234.91,376.88 235.25,377.10 235.59,377.33 235.93,377.56 236.27,377.79 236.61,378.02 236.95,378.26 237.28,378.50 237.62,378.74 237.95,378.98 238.29,379.23 238.62,379.47 238.95,379.72 239.28,379.97 239.62,380.22 239.95,380.48 240.27,380.73 240.60,380.99 240.93,381.25 241.26,381.51 241.59,381.77 241.91,382.04 242.24,382.30 242.56,382.57 242.89,382.84 243.21,383.11 243.53,383.38 243.85,383.65 244.17,383.92 244.49,384.20 244.81,384.47 245.13,384.75 245.45,385.03 245.77,385.31 246.09,385.59 246.41,385.87 246.72,386.15 247.04,386.43 247.35,386.71 247.67,387.00 247.98,387.28 248.30,387.57 248.61,387.85 248.92,388.14 249.23,388.42 249.54,388.71 249.86,389.00 250.17,389.29 250.48,389.58 250.79,389.86 251.09,390.15 251.40,390.44 251.71,390.73 252.02,391.02 252.33,391.31 252.63,391.60 252.94,391.89 253.24,392.18 253.55,392.47 253.85,392.76 254.16,393.05 254.46,393.34 254.77,393.62 255.07,393.91 255.37,394.20 255.67,394.49 255.98,394.78 256.28,395.07 256.58,395.36 256.88,395.65 257.18,395.94 257.48,396.23 257.78,396.52 258.08,396.81 258.37,397.10 258.67,397.39 258.97,397.68 259.27,397.97 259.56,398.25 259.86,398.54 260.16,398.83 260.45,399.12 260.75,399.41 261.04,399.70 261.34,399.99 261.63,400.28 261.92,400.57 262.22,400.86 262.51,401.15 262.80,401.44 263.09,401.73 263.39,402.02 263.68,402.31 263.97,402.60 264.26,402.89 264.55,403.18 264.84,403.47 265.13,403.76 265.42,404.05 265.70,404.34 265.99,404.63 266.28,404.92 266.57,405.21 266.86,405.51 267.14,405.80 267.43,406.09 267.71,406.38 268.00,406.67 268.29,406.96 268.57,407.25 268.85,407.54 269.14,407.83 269.42,408.12 269.71,408.42 269.99,408.71 270.27,409.00 270.56,409.29 270.84,409.58 271.12,409.87 271.40,410.16 271.68,410.46 271.96,410.75 272.24,411.04 272.52,411.33 272.80,411.63 273.08,411.92 273.36,412.21 273.64,412.50 273.92,412.80 274.20,413.09 274.47,413.38 274.75,413.67 275.03,413.97 275.31,414.26 275.58,414.55 275.86,414.85 276.14,415.14 276.41,415.44 276.69,415.73 276.96,416.02 277.24,416.32 277.51,416.61 277.78,416.91 278.06,417.20 278.33,417.49 278.61,417.79 278.88,418.08 279.15,418.38 279.42,418.67 279.70,418.97 279.97,419.26 280.24,419.56 280.51,419.86 280.78,420.15 281.05,420.45 281.32,420.74 281.59,421.04 281.86,421.34 282.13,421.63 282.40,421.93 282.67,422.23 282.94,422.52 283.21,422.82 283.48,423.12 283.74,423.41 284.01,423.71 284.28,424.01 284.55,424.31 284.81,424.61 285.08,424.90 285.35,425.20 285.61,425.50 285.88,425.80 286.15,426.10 286.41,426.40 286.68,426.70 286.94,427.00 287.21,427.30 287.47,427.60 287.73,427.90 288.00,428.20 288.26,428.50 288.53,428.80 288.79,429.10 289.05,429.40 289.32,429.70 289.58,430.00 289.84,430.30 290.10,430.61 290.37,430.91 290.63,431.21 290.89,431.51 291.15,431.81 291.41,432.12 291.67,432.42 291.93,432.72 292.19,433.03 292.45,433.33 292.71,433.63 292.97,433.94 293.23,434.24 293.49,434.55 293.75,434.85 294.01,435.16 294.27,435.46 294.53,435.77 294.79,436.07 295.05,436.38 295.30,436.68 295.56,436.99 295.82,437.30 296.08,437.60 296.34,437.91 296.59,438.22 296.85,438.52 297.11,438.83 297.36,439.14 297.62,439.45 297.88,439.76 298.13,440.06 298.39,440.37 298.65,440.68 298.90,440.99 299.16,441.30 299.41,441.61 299.67,441.92 299.92,442.23 300.18,442.54 300.43,442.85 300.69,443.16 300.94,443.48 301.20,443.79 301.45,444.10 301.71,444.41 301.96,444.72 302.21,445.04 302.47,445.35 302.72,445.66 302.97,445.98 303.23,446.29 303.48,446.60 303.73,446.92 303.99,447.23 304.24,447.55 304.49,447.86 304.74,448.18 305.00,448.49 305.25,448.81 305.50,449.12 305.75,449.44 306.00,449.76 306.25,450.07 306.51,450.39 306.76,450.71 307.01,451.02 307.26,451.34 307.51,451.66 307.76,451.98 308.01,452.30 308.26,452.61 308.51,452.93 308.76,453.25 309.01,453.57 309.26,453.89 309.51,454.21 309.76,454.53 310.01,454.85 310.26,455.17 310.50,455.49 310.75,455.81 311.00,456.13 311.25,456.45 311.50,456.78 311.75,457.10 311.99,457.42 312.24,457.74 312.49,458.06 312.74,458.39 312.98,458.71 313.23,459.03 313.48,459.36 313.72,459.68 313.97,460.00 314.21,460.33 314.46,460.65 314.71,460.97 314.95,461.30 315.20,461.62 315.44,461.95 315.69,462.27 315.93,462.60 316.18,462.92 316.42,463.25 316.67,463.57 316.91,463.90 317.16,464.23 317.40,464.55 317.64,464.88 317.89,465.21 318.13,465.53 318.37,465.86 318.62,466.19 318.86,466.51 319.10,466.84 319.34,467.17 319.59,467.50 319.83,467.83 320.07,468.15 320.31,468.48 320.55,468.81 320.80,469.14 321.04,469.47 321.28,469.80 321.52,470.13 321.76,470.46 322.00,470.79 322.24,471.12 322.48,471.45 322.72,471.78 322.96,472.11 323.20,472.44 323.44,472.77 323.68,473.10 323.92,473.43 324.16,473.76 324.39,474.09 324.63,474.42 324.87,474.76 325.11,475.09 325.35,475.42 325.59,475.75 325.82,476.08 326.06,476.42 326.30,476.75 326.53,477.08 326.77,477.41 327.01,477.75 327.24,478.08 327.48,478.41 327.72,478.75 327.95,479.08 328.19,479.41 328.42,479.75 328.66,480.08 328.89,480.42 329.13,480.75 329.36,481.08 329.60,481.42 329.83,481.75 330.06,482.09 330.30,482.42 330.53,482.76 330.76,483.09 331.00,483.43 331.23,483.76 331.46,484.10 331.70,484.43 331.93,484.77 332.16,485.11 332.39,485.44 332.62,485.78 332.85,486.11 333.09,486.45 333.32,486.79 333.55,487.12 333.78,487.46 334.01,487.80 334.24,488.13 334.47,488.47 334.70,488.81 334.93,489.15 335.16,489.48 335.39,489.82 335.62,490.16 335.85,490.50 336.07,490.83 336.30,491.17 336.53,491.51 336.76,491.85 336.99,492.18 337.21,492.52 337.44,492.86 337.67,493.20 337.89,493.54 338.12,493.88 338.35,494.22 338.57,494.55 338.80,494.89 339.03,495.23 339.25,495.57 339.48,495.91 339.70,496.25 339.93,496.59 340.15,496.93 340.38,497.27 340.60,497.61 340.82,497.95 341.05,498.29 341.27,498.63 341.49,498.97 341.72,499.31 341.94,499.65 342.16,499.99 342.38,500.33 342.61,500.67 342.83,501.01 343.05,501.35 343.27,501.69 343.49,502.03 343.71,502.37 343.94,502.71 344.16,503.05 344.38,503.39 344.60,503.73 344.82,504.07 345.04,504.41 345.26,504.75 345.47,505.09 345.69,505.43 345.91,505.78 346.13,506.12 346.35,506.46 346.57,506.80 346.78,507.14 347.00,507.48 347.22,507.82 347.44,508.16 347.65,508.51 347.87,508.85 348.09,509.19 348.30,509.53 348.52,509.87 348.73,510.22 348.95,510.56 349.16,510.90 349.38,511.24 349.59,511.59 349.81,511.93 350.02,512.27 350.23,512.61 350.44,512.96 350.66,513.30 350.87,513.64 351.08,513.99 351.29,514.33 351.51,514.67 351.72,515.02 351.93,515.36 352.14,515.71 352.35,516.05 352.56,516.39 352.77,516.74 352.98,517.08 353.18,517.43 353.39,517.77 353.60,518.12 353.81,518.46 354.02,518.81 354.22,519.15 354.43,519.50 354.64,519.85 354.84,520.19 355.05,520.54 355.25,520.88 355.46,521.23 355.66,521.58 355.87,521.92 356.07,522.27 356.27,522.62 356.47,522.97 356.68,523.31 356.88,523.66 357.08,524.01 357.28,524.36 357.48,524.71 357.68,525.06 357.88,525.41 358.08,525.75 358.28,526.10 358.48,526.45 358.68,526.80 358.88,527.15 359.07,527.50 359.27,527.85 359.47,528.21 359.66,528.56 359.86,528.91 360.05,529.26 360.25,529.61 360.44,529.96 360.64,530.32 360.83,530.67 361.02,531.02 361.22,531.37 361.41,531.73 361.60,532.08 361.79,532.43 361.98,532.79 362.17,533.14 362.36,533.50 362.55,533.85 362.74,534.21 362.93,534.56 363.11,534.92 363.30,535.28 363.49,535.63 363.67,535.99 363.86,536.35 364.05,536.70 364.23,537.06 364.41,537.42 364.60,537.78 364.78,538.14 364.96,538.49 365.14,538.85 365.33,539.21 365.51,539.57 365.69,539.93 365.87,540.29 366.05,540.65 366.23,541.01 366.40,541.38 366.58,541.74 366.76,542.10 366.93,542.46 367.11,542.82 367.29,543.19 367.46,543.55 367.63,543.92 367.81,544.28 367.98,544.64 368.15,545.01 368.33,545.37 368.50,545.74 368.67,546.11 368.84,546.47 369.01,546.84 369.18,547.21 369.34,547.57 369.51,547.94 369.68,548.31 369.85,548.68 370.01,549.05 370.18,549.42 370.34,549.79 370.50,550.16 370.67,550.53 370.83,550.90 370.99,551.27 371.15,551.64 371.31,552.01 371.47,552.39 371.63,552.76 371.79,553.13 371.95,553.51 372.11,553.88 372.27,554.26 372.42,554.63 372.58,555.01 372.73,555.38 372.89,555.76 373.04,556.14 373.19,556.51 373.35,556.89 373.50,557.27 373.65,557.65 373.80,558.03 373.95,558.41 374.10,558.79 374.24,559.17 374.39,559.55 374.54,559.93 374.68,560.31 374.83,560.69 374.97,561.08 375.12,561.46 375.26,561.84 375.40,562.23 375.54,562.61 375.68,563.00 375.82,563.39 375.96,563.77 376.10,564.16 376.24,564.55 376.38,564.93 376.51,565.32 376.65,565.71 376.78,566.10 376.92,566.49 377.05,566.88 377.18,567.27 377.32,567.66 377.45,568.05 377.58,568.45 377.71,568.84 377.84,569.23 377.96,569.63"/>
</g>
<g fill="#bdbdbd"><circle cx="571.25" cy="569.3" r="12.2"/><circle cx="496.9" cy="379.8" r="12.2"/><circle cx="409.8" cy="219.2" r="12.2"/><circle cx="307.2" cy="98.6" r="12.2"/><circle cx="511" cy="569.3" r="12.2"/><circle cx="453.9" cy="416.2" r="12.2"/><circle cx="379.9" cy="277.4" r="12.2"/><circle cx="290.1" cy="163.5" r="12.2"/><circle cx="444.6" cy="569.3" r="12.2"/><circle cx="395.9" cy="458.5" r="12.2"/><circle cx="332.9" cy="358.6" r="12.2"/><circle cx="256.6" cy="276.4" r="12.2"/><circle cx="378" cy="569.6" r="12.2"/><circle cx="337.9" cy="494.5" r="12.2"/><circle cx="286.2" cy="426.4" r="12.2"/><circle cx="223.25" cy="370.8" r="12.2"/></g>
<g><path transform="translate(566.11,575.90) scale(0.01850,-0.01850)" d="M403,0 L266,0 L266,522 C216,474 152,433 80,404 L80,527 C122,545 157,572 203,611 C249,650 276,686 290,716 L403,716 Z" fill="#fff" stroke="#fff" stroke-width="18.9" stroke-linejoin="round"/><text text-anchor="start" x="491.76" y="386.40" font-size="18.5" font-weight="bold" fill="#fff" stroke="#fff" stroke-width="0.35" stroke-linejoin="round">2</text><text text-anchor="start" x="404.66" y="225.80" font-size="18.5" font-weight="bold" fill="#fff" stroke="#fff" stroke-width="0.35" stroke-linejoin="round">3</text><text text-anchor="start" x="302.06" y="105.20" font-size="18.5" font-weight="bold" fill="#fff" stroke="#fff" stroke-width="0.35" stroke-linejoin="round">4</text><text text-anchor="start" x="505.86" y="575.90" font-size="18.5" font-weight="bold" fill="#fff" stroke="#fff" stroke-width="0.35" stroke-linejoin="round">5</text><text text-anchor="start" x="448.76" y="422.80" font-size="18.5" font-weight="bold" fill="#fff" stroke="#fff" stroke-width="0.35" stroke-linejoin="round">6</text><text text-anchor="start" x="374.76" y="284.00" font-size="18.5" font-weight="bold" fill="#fff" stroke="#fff" stroke-width="0.35" stroke-linejoin="round">7</text><text text-anchor="start" x="284.96" y="170.10" font-size="18.5" font-weight="bold" fill="#fff" stroke="#fff" stroke-width="0.35" stroke-linejoin="round">8</text><text text-anchor="start" x="439.46" y="575.90" font-size="18.5" font-weight="bold" fill="#fff" stroke="#fff" stroke-width="0.35" stroke-linejoin="round">9</text><path transform="translate(385.61,465.10) scale(0.01850,-0.01850)" d="M403,0 L266,0 L266,522 C216,474 152,433 80,404 L80,527 C122,545 157,572 203,611 C249,650 276,686 290,716 L403,716 Z" fill="#fff" stroke="#fff" stroke-width="18.9" stroke-linejoin="round"/><text text-anchor="start" x="395.90" y="465.10" font-size="18.5" font-weight="bold" fill="#fff" stroke="#fff" stroke-width="0.35" stroke-linejoin="round">0</text><path transform="translate(322.61,365.20) scale(0.01850,-0.01850)" d="M403,0 L266,0 L266,522 C216,474 152,433 80,404 L80,527 C122,545 157,572 203,611 C249,650 276,686 290,716 L403,716 Z" fill="#fff" stroke="#fff" stroke-width="18.9" stroke-linejoin="round"/><path transform="translate(332.90,365.20) scale(0.01850,-0.01850)" d="M403,0 L266,0 L266,522 C216,474 152,433 80,404 L80,527 C122,545 157,572 203,611 C249,650 276,686 290,716 L403,716 Z" fill="#fff" stroke="#fff" stroke-width="18.9" stroke-linejoin="round"/><path transform="translate(246.31,283.00) scale(0.01850,-0.01850)" d="M403,0 L266,0 L266,522 C216,474 152,433 80,404 L80,527 C122,545 157,572 203,611 C249,650 276,686 290,716 L403,716 Z" fill="#fff" stroke="#fff" stroke-width="18.9" stroke-linejoin="round"/><text text-anchor="start" x="256.60" y="283.00" font-size="18.5" font-weight="bold" fill="#fff" stroke="#fff" stroke-width="0.35" stroke-linejoin="round">2</text><path transform="translate(367.71,576.20) scale(0.01850,-0.01850)" d="M403,0 L266,0 L266,522 C216,474 152,433 80,404 L80,527 C122,545 157,572 203,611 C249,650 276,686 290,716 L403,716 Z" fill="#fff" stroke="#fff" stroke-width="18.9" stroke-linejoin="round"/><text text-anchor="start" x="378.00" y="576.20" font-size="18.5" font-weight="bold" fill="#fff" stroke="#fff" stroke-width="0.35" stroke-linejoin="round">3</text><path transform="translate(327.61,501.10) scale(0.01850,-0.01850)" d="M403,0 L266,0 L266,522 C216,474 152,433 80,404 L80,527 C122,545 157,572 203,611 C249,650 276,686 290,716 L403,716 Z" fill="#fff" stroke="#fff" stroke-width="18.9" stroke-linejoin="round"/><text text-anchor="start" x="337.90" y="501.10" font-size="18.5" font-weight="bold" fill="#fff" stroke="#fff" stroke-width="0.35" stroke-linejoin="round">4</text><path transform="translate(275.91,433.00) scale(0.01850,-0.01850)" d="M403,0 L266,0 L266,522 C216,474 152,433 80,404 L80,527 C122,545 157,572 203,611 C249,650 276,686 290,716 L403,716 Z" fill="#fff" stroke="#fff" stroke-width="18.9" stroke-linejoin="round"/><text text-anchor="start" x="286.20" y="433.00" font-size="18.5" font-weight="bold" fill="#fff" stroke="#fff" stroke-width="0.35" stroke-linejoin="round">5</text><path transform="translate(212.96,377.40) scale(0.01850,-0.01850)" d="M403,0 L266,0 L266,522 C216,474 152,433 80,404 L80,527 C122,545 157,572 203,611 C249,650 276,686 290,716 L403,716 Z" fill="#fff" stroke="#fff" stroke-width="18.9" stroke-linejoin="round"/><text text-anchor="start" x="223.25" y="377.40" font-size="18.5" font-weight="bold" fill="#fff" stroke="#fff" stroke-width="0.35" stroke-linejoin="round">6</text></g>
<g fill="#000" font-size="12.5"><text transform="translate(60,490.73) rotate(-90)" text-anchor="middle">0.05</text><text transform="translate(60,411.95) rotate(-90)" text-anchor="middle">0.1</text><text transform="translate(60,333.18) rotate(-90)" text-anchor="middle">0.15</text><text transform="translate(60,254.40) rotate(-90)" text-anchor="middle">0.2</text><text transform="translate(60,175.63) rotate(-90)" text-anchor="middle">0.25</text><text transform="translate(60,96.85) rotate(-90)" text-anchor="middle">0.3</text><text text-anchor="start" x="64.02" y="585.00" font-size="12.5" font-weight="normal" fill="#000">0</text><text text-anchor="start" x="141.04" y="585.00" font-size="12.5" font-weight="normal" fill="#000">4</text><text text-anchor="start" x="148.00" y="585.00" font-size="12.5" font-weight="normal" fill="#000">0</text><text text-anchor="start" x="154.95" y="585.00" font-size="12.5" font-weight="normal" fill="#000">0</text><text text-anchor="start" x="225.01" y="585.00" font-size="12.5" font-weight="normal" fill="#000">8</text><text text-anchor="start" x="231.97" y="585.00" font-size="12.5" font-weight="normal" fill="#000">0</text><text text-anchor="start" x="238.92" y="585.00" font-size="12.5" font-weight="normal" fill="#000">0</text><path transform="translate(305.51,585.00) scale(0.01250,-0.01250)" d="M373,0 L285,0 L285,560 C250,527 205,495 150,463 C96,432 52,412 28,402 L28,487 C94,521 156,562 208,607 C260,652 297,696 319,716 L373,716 Z" fill="#000"/><text text-anchor="start" x="312.46" y="585.00" font-size="12.5" font-weight="normal" fill="#000">2</text><text text-anchor="start" x="319.42" y="585.00" font-size="12.5" font-weight="normal" fill="#000">0</text><text text-anchor="start" x="326.37" y="585.00" font-size="12.5" font-weight="normal" fill="#000">0</text><path transform="translate(389.48,585.00) scale(0.01250,-0.01250)" d="M373,0 L285,0 L285,560 C250,527 205,495 150,463 C96,432 52,412 28,402 L28,487 C94,521 156,562 208,607 C260,652 297,696 319,716 L373,716 Z" fill="#000"/><text text-anchor="start" x="396.43" y="585.00" font-size="12.5" font-weight="normal" fill="#000">6</text><text text-anchor="start" x="403.39" y="585.00" font-size="12.5" font-weight="normal" fill="#000">0</text><text text-anchor="start" x="410.34" y="585.00" font-size="12.5" font-weight="normal" fill="#000">0</text><text text-anchor="start" x="473.45" y="585.00" font-size="12.5" font-weight="normal" fill="#000">2</text><text text-anchor="start" x="480.41" y="585.00" font-size="12.5" font-weight="normal" fill="#000">0</text><text text-anchor="start" x="487.36" y="585.00" font-size="12.5" font-weight="normal" fill="#000">0</text><text text-anchor="start" x="494.31" y="585.00" font-size="12.5" font-weight="normal" fill="#000">0</text>
<text transform="translate(60,20.8) rotate(-90)" text-anchor="middle">in wg</text>
<text x="618.3" y="585" text-anchor="end">cfm</text>
</g>
<g fill="#000" font-size="16.2" font-weight="bold" text-anchor="middle">
<text x="23" y="68">80</text>
<text x="23" y="194.5">60</text>
<text x="23" y="321">40</text>
<text x="23" y="447.5">20</text>
<text transform="translate(27.3,18.3) rotate(-90)" font-size="16">Pa</text>
</g>
<g fill="#000" font-size="16" font-weight="bold" text-anchor="middle">
<path transform="translate(173.26,613.50) scale(0.01600,-0.01600)" d="M403,0 L266,0 L266,522 C216,474 152,433 80,404 L80,527 C122,545 157,572 203,611 C249,650 276,686 290,716 L403,716 Z" fill="#000"/><text text-anchor="start" x="182.16" y="613.50" font-size="16" font-weight="bold" fill="#000">0</text><text text-anchor="start" x="191.06" y="613.50" font-size="16" font-weight="bold" fill="#000">0</text><text text-anchor="start" x="199.96" y="613.50" font-size="16" font-weight="bold" fill="#000">0</text>
<text x="314.62" y="613.5">2000</text>
<text x="438.18" y="613.5">3000</text>
<text x="544" y="613.5" text-anchor="start">4000<tspan dx="-1.6" style="letter-spacing:-0.2px"> m³/h</tspan></text>
<text x="43" y="613.5" text-anchor="start">q<tspan font-size="12">v</tspan></text>
<text transform="translate(27,599.5) rotate(-90)" text-anchor="start">P<tspan font-size="12">fs</tspan></text>
</g>
<path d="M81.8,609.2 L68,604.3 L71.6,609.1 L68,613.9 Z" fill="#000"/>
<path d="M23,554.9 L27.6,568.5 L23,565.1 L18.4,568.5 Z" fill="#000"/>
</svg>
</body></html>
